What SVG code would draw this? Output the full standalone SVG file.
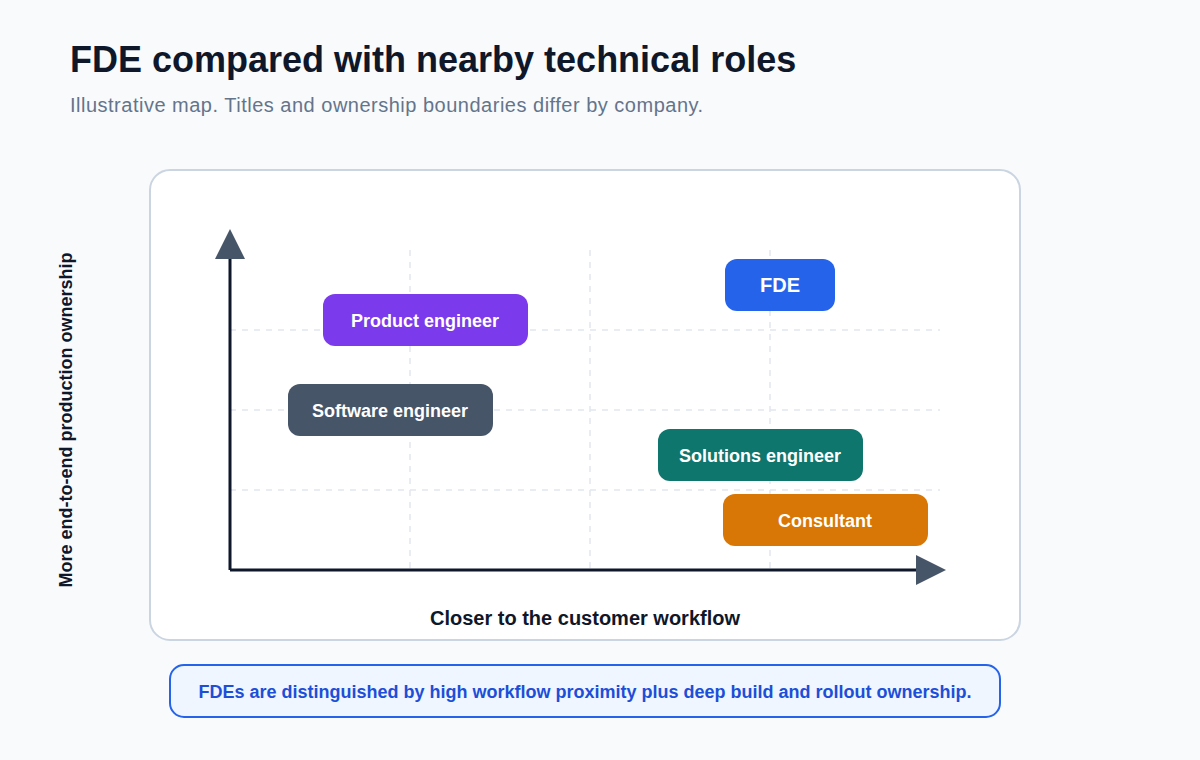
<svg xmlns="http://www.w3.org/2000/svg" width="1200" height="760" viewBox="0 0 1200 760">
<style>
.t{font-family:"Liberation Sans",Arial,sans-serif}
.grid{stroke:#e2e8f0;stroke-width:1.5;stroke-dasharray:6 6}
.node text{fill:#fff;font-weight:bold;font-size:18px;text-anchor:middle}
</style>
<rect width="1200" height="760" fill="#f8fafc"/>
<text class="t" x="70" y="72" font-size="36" font-weight="bold" fill="#0f172a">FDE compared with nearby technical roles</text>
<text class="t" x="70" y="112" font-size="20" fill="#64748b" letter-spacing="0.5">Illustrative map. Titles and ownership boundaries differ by company.</text>
<rect x="150" y="170" width="870" height="470" rx="20" fill="#fff" stroke="#cbd5e1" stroke-width="2"/>
<g id="grid">
<line class="grid" x1="410" y1="250" x2="410" y2="570"/>
<line class="grid" x1="590" y1="250" x2="590" y2="570"/>
<line class="grid" x1="770" y1="250" x2="770" y2="570"/>
<line class="grid" x1="230" y1="330" x2="940" y2="330"/>
<line class="grid" x1="230" y1="410" x2="940" y2="410"/>
<line class="grid" x1="230" y1="490" x2="940" y2="490"/>
</g>
<g id="connectors">
<line x1="230" y1="570" x2="230" y2="256" stroke="#0f172a" stroke-width="3"/>
<polygon points="215,259 245,259 230,229" fill="#475569"/>
<line x1="230" y1="570" x2="918" y2="570" stroke="#0f172a" stroke-width="3"/>
<polygon points="916,555 916,585 946,570" fill="#475569"/>
</g>
<text class="t" x="585" y="625" font-size="20" font-weight="bold" fill="#0f172a" text-anchor="middle">Closer to the customer workflow</text>
<text class="t" transform="translate(72,420) rotate(-90)" font-size="18" font-weight="bold" fill="#0f172a" text-anchor="middle">More end-to-end production ownership</text>
<g id="product" class="node t"><rect x="323" y="294" width="205" height="52" rx="12" fill="#7c3aed"/><text x="425" y="327">Product engineer</text></g>
<g id="software" class="node t"><rect x="288" y="384" width="205" height="52" rx="12" fill="#475569"/><text x="390" y="417">Software engineer</text></g>
<g id="fde" class="node t"><rect x="725" y="259" width="110" height="52" rx="12" fill="#2563eb"/><text x="780" y="292" style="font-size:20px">FDE</text></g>
<g id="solutions" class="node t"><rect x="658" y="429" width="205" height="52" rx="12" fill="#0f766e"/><text x="760" y="462">Solutions engineer</text></g>
<g id="consultant" class="node t"><rect x="723" y="494" width="205" height="52" rx="12" fill="#d97706"/><text x="825" y="527">Consultant</text></g>
<g id="callout"><rect x="170" y="665" width="830" height="52" rx="14" fill="#eff6ff" stroke="#2563eb" stroke-width="2"/>
<text class="t" x="585" y="698" font-size="18" font-weight="bold" fill="#1d4ed8" text-anchor="middle">FDEs are distinguished by high workflow proximity plus deep build and rollout ownership.</text></g>
</svg>
